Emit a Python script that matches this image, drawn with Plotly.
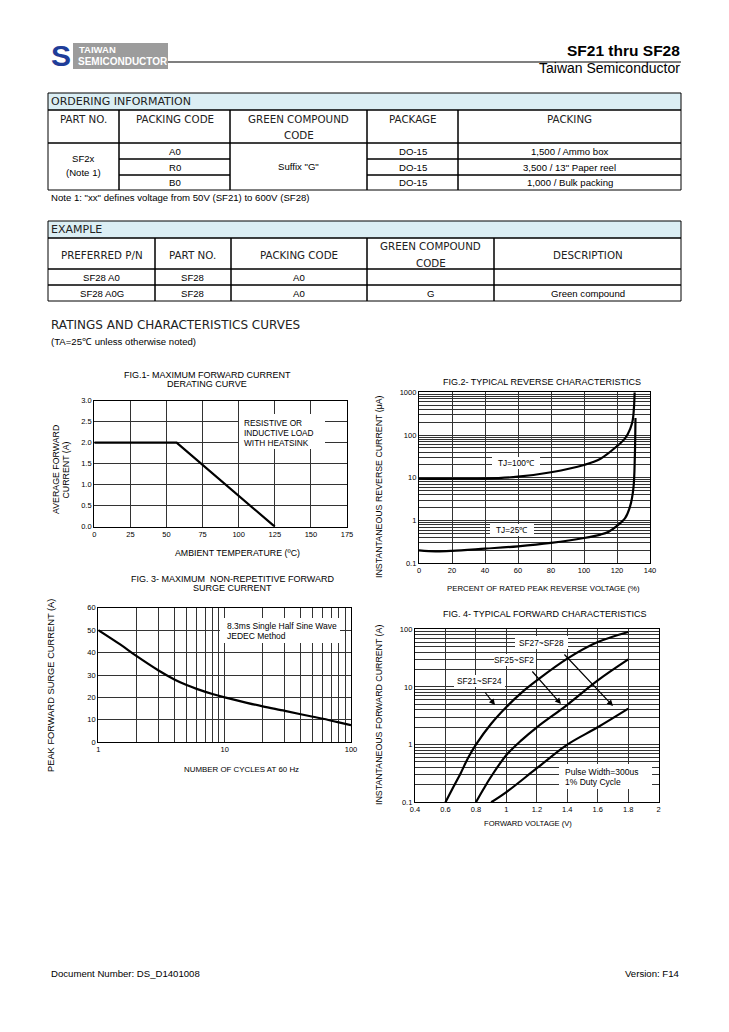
import plotly.graph_objects as go

W, H = 729, 1032
ARIAL = "Liberation Sans, Arial, sans-serif"
WIDE = "DejaVu Sans, Verdana, sans-serif"

# ---------------- DATA ----------------
# Fig.1 derating curve
fig1_temp = [0, 57, 125]
fig1_current = [2.0, 2.0, 0.0]

# Fig.2 reverse characteristics (percent of rated voltage, uA)
fig2_pct_100 = [0, 10, 20, 40, 60, 80, 100, 110, 120, 125, 128, 129.5, 130.3, 130.7]
fig2_ir_100 = [9.5, 9.4, 9.5, 9.6, 10.6, 13.5, 20, 28, 55, 85, 140, 220, 450, 1000]
fig2_pct_25 = [0, 10, 20, 40, 60, 80, 100, 110, 115, 120, 125, 128, 130, 130.8, 131.1, 131.2]
fig2_ir_25 = [0.2, 0.19, 0.195, 0.22, 0.25, 0.3, 0.39, 0.47, 0.55, 0.75, 1.15, 2.2, 6, 30, 120, 250]

# Fig.3 surge current
fig3_cycles = [1, 1.5, 2, 3, 4, 5, 6, 8, 10, 15, 20, 30, 40, 50, 60, 80, 100]
fig3_surge = [50, 43.5, 38.5, 32, 28, 25.5, 23.8, 21.5, 20, 17.6, 16, 14, 12.5, 11.4, 10.5, 8.9, 7.6]

# Fig.4 forward characteristics
fig4_vf_a = [0.6, 0.65, 0.7, 0.75, 0.8, 0.9, 1.0, 1.1, 1.2, 1.4, 1.6, 1.8]
fig4_if_a = [0.1, 0.18, 0.32, 0.6, 1.0, 2.3, 4.5, 8, 13, 31, 60, 90]
fig4_vf_b = [0.8, 0.85, 0.9, 1.0, 1.1, 1.2, 1.4, 1.6, 1.8]
fig4_if_b = [0.1, 0.17, 0.28, 0.66, 1.2, 2.0, 4.9, 13, 30]
fig4_vf_c = [0.9, 1.0, 1.2, 1.4, 1.6, 1.8]
fig4_if_c = [0.1, 0.15, 0.39, 1.0, 2.0, 4.2]

# Tick values / labels
log_ticks_fig2 = [m * 10 ** e for e in range(-1, 3) for m in range(1, 10)] + [1000]
log_labels_fig2 = {0.1: "0.1", 1: "1", 10: "10", 100: "100", 1000: "1000"}
log_ticks_fig3 = [m * 10 ** e for e in range(0, 2) for m in range(1, 10)] + [100]
log_labels_fig3 = {1: "1", 10: "10", 100: "100"}
log_ticks_fig4 = [m * 10 ** e for e in range(-1, 2) for m in range(1, 10)] + [100]
log_labels_fig4 = {0.1: "0.1", 1: "1", 10: "10", 100: "100"}

# Tables
order_title = "ORDERING INFORMATION"
order_headers = ["PART NO.", "PACKING CODE", "GREEN COMPOUND|CODE", "PACKAGE", "PACKING"]
order_part = "SF2x|(Note 1)"
order_codes = ["A0", "R0", "B0"]
order_green = 'Suffix "G"'
order_package = ["DO-15", "DO-15", "DO-15"]
order_packing = ["1,500 / Ammo box", '3,500 / 13" Paper reel', "1,000 / Bulk packing"]
order_note = 'Note 1: "xx" defines voltage from 50V (SF21) to 600V (SF28)'

example_title = "EXAMPLE"
example_headers = ["PREFERRED P/N", "PART NO.", "PACKING CODE", "GREEN COMPOUND|CODE", "DESCRIPTION"]
example_rows = [["SF28 A0", "SF28", "A0", "", ""],
                ["SF28 A0G", "SF28", "A0", "G", "Green compound"]]

# ---------------- HELPERS ----------------
def px(x):
    return x / W

def py(y):
    return 1 - y / H

fig = go.Figure()
shapes = []
anns = []

def text(t, x, y, size=8, xanchor="center", family=ARIAL, color="black", bold=False,
         bg=None, angle=0, yanchor="middle"):
    if bold:
        t = "<b>" + t + "</b>"
    d = dict(text=t, x=px(x), y=py(y), xref="paper", yref="paper", showarrow=False,
             xanchor=xanchor, yanchor=yanchor, textangle=angle,
             font=dict(size=size, family=family, color=color), borderpad=0)
    if bg:
        d["bgcolor"] = bg
    anns.append(d)

def rect(x0, y0, x1, y1, fill=None, line="black", lw=1):
    shapes.append(dict(type="rect", xref="paper", yref="paper", x0=px(x0), x1=px(x1),
                       y0=py(y0), y1=py(y1), fillcolor=fill if fill else "rgba(0,0,0,0)",
                       line=dict(color=line, width=lw), layer="above"))

def hline(x0, x1, y, color="black", lw=1):
    shapes.append(dict(type="line", xref="paper", yref="paper", x0=px(x0), x1=px(x1),
                       y0=py(y), y1=py(y), line=dict(color=color, width=lw)))

def white_box(x0, y0, x1, y1):
    shapes.append(dict(type="rect", xref="paper", yref="paper", x0=px(x0), x1=px(x1),
                       y0=py(y0), y1=py(y1), fillcolor="white", line=dict(width=0),
                       layer="above"))

def header_text(t, cx, y_top, y_bot, top_align=False):
    lines = t.split("|")
    if top_align:
        ys = [y_top + 9 + 16 * i for i in range(len(lines))]
    else:
        mid = (y_top + y_bot) / 2 + 1
        ys = [mid - 8 * (len(lines) - 1) + 16 * i for i in range(len(lines))]
    for ln, yy in zip(lines, ys):
        text(ln, cx, yy, size=10.3, family=WIDE, color="#222")

DATA_FS = 9.6

# ---------------- PAGE HEADER ----------------
rect(48, 43, 73, 69, fill="white", line="rgba(0,0,0,0)")
text("S", 60.5, 56, size=30, family=ARIAL, color="#1f3d99", bold=True)
rect(73, 43, 168, 69, fill="#9c9c9c", line="rgba(0,0,0,0)")
text("TAIWAN", 78, 50, size=9.5, xanchor="left", color="white", bold=True)
text("SEMICONDUCTOR", 77, 62, size=10, xanchor="left", color="white", bold=True)
hline(168, 681, 62, lw=1.2)
text("SF21 thru SF28", 681, 51, size=15.5, xanchor="right", bold=True)
text("Taiwan Semiconductor", 681, 68, size=14, xanchor="right")

# ---------------- ORDERING TABLE ----------------
oc = [48, 119, 230, 367, 458, 681]
rect(48, 93, 681, 110, fill="#dbeef4")
text(order_title, 50, 102, size=11, xanchor="left", family=WIDE, color="#222")
for i, h in enumerate(order_headers):
    rect(oc[i], 110, oc[i + 1], 143)
    header_text(h, (oc[i] + oc[i + 1]) / 2, 110, 143, top_align=True)
orow = [143, 159, 175, 190]
rect(oc[0], orow[0], oc[1], orow[3])
p1, p2 = order_part.split("|")
text(p1, (oc[0] + oc[1]) / 2, 158, size=DATA_FS)
text(p2, (oc[0] + oc[1]) / 2, 173, size=DATA_FS)
rect(oc[2], orow[0], oc[3], orow[3])
text(order_green, (oc[2] + oc[3]) / 2, 166, size=DATA_FS)
for r in range(3):
    y0, y1 = orow[r], orow[r + 1]
    cy = (y0 + y1) / 2
    rect(oc[1], y0, oc[2], y1)
    text(order_codes[r], (oc[1] + oc[2]) / 2, cy, size=DATA_FS)
    rect(oc[3], y0, oc[4], y1)
    text(order_package[r], (oc[3] + oc[4]) / 2, cy, size=DATA_FS)
    rect(oc[4], y0, oc[5], y1)
    text(order_packing[r], (oc[4] + oc[5]) / 2, cy, size=DATA_FS)
text(order_note, 50, 197, size=DATA_FS, xanchor="left")

# ---------------- EXAMPLE TABLE ----------------
ec = [48, 155, 231, 367, 494, 681]
rect(48, 221, 681, 238, fill="#dbeef4")
text(example_title, 50, 230, size=11, xanchor="left", family=WIDE, color="#222")
for i, h in enumerate(example_headers):
    rect(ec[i], 238, ec[i + 1], 269)
    header_text(h, (ec[i] + ec[i + 1]) / 2, 238, 269)
erow = [269, 285, 301]
for r, row in enumerate(example_rows):
    y0, y1 = erow[r], erow[r + 1]
    for i, v in enumerate(row):
        rect(ec[i], y0, ec[i + 1], y1)
        if v:
            text(v, (ec[i] + ec[i + 1]) / 2, (y0 + y1) / 2, size=DATA_FS)

text("RATINGS AND CHARACTERISTICS CURVES", 50, 325, size=12, xanchor="left",
     family=WIDE, color="#222")
text("(TA=25℃ unless otherwise noted)", 50, 342, size=DATA_FS, xanchor="left")

# ---------------- CHARTS ----------------
line_style = dict(color="black", width=2.2)
fig.add_trace(go.Scatter(x=fig1_temp, y=fig1_current, mode="lines", line=line_style,
                         xaxis="x", yaxis="y", showlegend=False))
fig.add_trace(go.Scatter(x=fig2_pct_100, y=fig2_ir_100, mode="lines", line=line_style,
                         line_shape="spline", xaxis="x2", yaxis="y2", showlegend=False))
fig.add_trace(go.Scatter(x=fig2_pct_25, y=fig2_ir_25, mode="lines", line=line_style,
                         line_shape="spline", xaxis="x2", yaxis="y2", showlegend=False))
fig.add_trace(go.Scatter(x=fig3_cycles, y=fig3_surge, mode="lines", line=line_style,
                         line_shape="spline", xaxis="x3", yaxis="y3", showlegend=False))
for xs, ys in [(fig4_vf_a, fig4_if_a), (fig4_vf_b, fig4_if_b), (fig4_vf_c, fig4_if_c)]:
    fig.add_trace(go.Scatter(x=xs, y=ys, mode="lines", line=line_style, line_shape="spline",
                             xaxis="x4", yaxis="y4", showlegend=False))

GRID = "#333333"
tickfont = dict(size=7.5, family=ARIAL, color="black")

def axis(domain_px, horizontal, **kw):
    a, b = domain_px
    if horizontal:
        dom = [px(a), px(b)]
    else:
        dom = [py(b), py(a)]
    d = dict(domain=dom, showline=True, linecolor="black", linewidth=1.3, mirror=True,
             showgrid=True, gridcolor=GRID, gridwidth=1, zeroline=False, ticks="",
             tickfont=tickfont, fixedrange=True, automargin=False)
    d.update(kw)
    return d

def logaxis(domain_px, horizontal, ticks, labels, rng, anchor):
    return axis(domain_px, horizontal, type="log", range=rng, tickmode="array",
                tickvals=ticks, ticktext=[labels.get(t, "") for t in ticks], anchor=anchor)

fig.update_layout(
    xaxis=axis((94.3, 347), True, range=[0, 175], dtick=25, tick0=0, anchor="y"),
    yaxis=axis((400.7, 526.7), False, range=[0, 3], dtick=0.5, tick0=0, tickformat=".1f",
               anchor="x"),
    xaxis2=axis((419, 650), True, range=[0, 140], dtick=20, tick0=0, anchor="y2"),
    yaxis2=logaxis((392.3, 563.3), False, log_ticks_fig2, log_labels_fig2, [-1, 3], "x2"),
    xaxis3=logaxis((98.3, 351), True, log_ticks_fig3, log_labels_fig3, [0, 2], "y3"),
    yaxis3=axis((607.7, 742.3), False, range=[0, 60], dtick=10, tick0=0, anchor="x3"),
    xaxis4=axis((415, 658.7), True, range=[0.4, 2], dtick=0.2, tick0=0.4, anchor="y4"),
    yaxis4=logaxis((629.3, 802.3), False, log_ticks_fig4, log_labels_fig4, [-1, 2], "x4"),
)

TITLE_FS = 9
# Fig 1 texts
text("FIG.1- MAXIMUM FORWARD CURRENT", 207, 375, size=TITLE_FS)
text("DERATING CURVE", 207, 384, size=TITLE_FS)
text("AVERAGE FORWARD", 56, 470, size=8.8, angle=-90)
text("CURRENT (A)", 65.5, 470, size=8.8, angle=-90)
text("AMBIENT TEMPERATURE (ºC)", 237, 552.5, size=8.8)
white_box(239, 414, 325, 449)
text("RESISTIVE OR", 243, 422.7, size=8.3, xanchor="left")
text("INDUCTIVE LOAD", 243, 432.7, size=8.3, xanchor="left")
text("WITH HEATSINK", 243, 442.7, size=8.3, xanchor="left")

# Fig 2 texts
text("FIG.2- TYPICAL REVERSE CHARACTERISTICS", 542, 381.5, size=TITLE_FS)
text("INSTANTANEOUS REVERSE CURRENT (μA)", 379, 487, size=8.8, angle=-90)
text("PERCENT OF RATED PEAK REVERSE VOLTAGE (%)", 543, 588.3, size=7.8)
white_box(492, 457, 540, 469)
text("TJ=100℃", 516, 463.3, size=8.3)
white_box(490, 524, 534, 536)
text("TJ=25℃", 512, 529.5, size=8.3)

# Fig 3 texts
text("FIG. 3- MAXIMUM  NON-REPETITIVE FORWARD", 233, 578.5, size=TITLE_FS)
text("SURGE CURRENT", 232, 587.7, size=TITLE_FS)
text("PEAK FORWARD SURGE CURRENT (A)", 51, 686, size=9.3, angle=-90)
text("NUMBER OF CYCLES AT 60 Hz", 241, 769, size=7.9)
white_box(220, 618, 340, 643)
text("8.3ms Single Half Sine Wave", 225.7, 626, size=8.5, xanchor="left")
text("JEDEC Method", 225.7, 635.7, size=8.5, xanchor="left")

# Fig 4 texts
text("FIG. 4- TYPICAL FORWARD CHARACTERISTICS", 545, 614, size=TITLE_FS)
text("INSTANTANEOUS FORWARD CURRENT (A)", 379, 715, size=8.8, angle=-90)
text("FORWARD VOLTAGE (V)", 527.5, 823.3, size=7.6)
white_box(515, 636, 568, 649)
text("SF27~SF28", 541, 642.7, size=8.3)
white_box(494, 654, 536, 666)
text("SF25~SF2", 514, 660, size=8.3)
white_box(454, 675, 505, 687)
text("SF21~SF24", 479, 681, size=8.3)
white_box(559, 764, 652, 789)
text("Pulse Width=300us", 564.3, 771.7, size=8.5, xanchor="left")
text("1% Duty Cycle", 564.3, 781.7, size=8.5, xanchor="left")

for (hx, hy, tx, ty) in [(495, 705, 484, 691), (561, 704, 531, 670), (613, 706, 563, 653)]:
    anns.append(dict(text="", x=px(hx), y=py(hy), xref="paper", yref="paper",
                     ax=tx - hx, ay=ty - hy, axref="pixel", ayref="pixel", showarrow=True,
                     arrowhead=2, arrowsize=1, arrowwidth=1.2, arrowcolor="black"))

# Footer
text("Document Number: DS_D1401008", 50, 973, size=DATA_FS, xanchor="left")
text("Version: F14", 681, 973, size=DATA_FS, xanchor="right")

fig.update_layout(width=W, height=H, margin=dict(l=0, r=0, t=0, b=0, pad=0),
                  paper_bgcolor="white", plot_bgcolor="white", shapes=shapes,
                  annotations=anns, showlegend=False)

fig.write_html("out.html", config={"displayModeBar": False},
               post_script="document.body.style.margin='0';document.body.style.overflow='hidden';")
